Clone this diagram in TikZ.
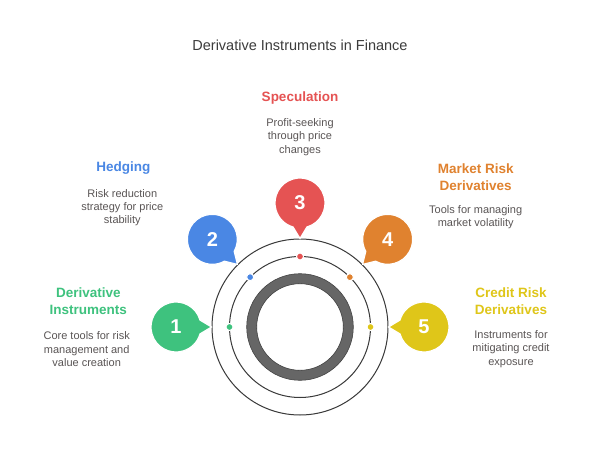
\documentclass[tikz,border=0pt]{standalone}
\usepackage{fontspec}
\setmainfont{Liberation Sans}
\usetikzlibrary{calc}
\definecolor{cgreen}{HTML}{3EC27E}
\definecolor{cblue}{HTML}{4A87E4}
\definecolor{cred}{HTML}{E55353}
\definecolor{corange}{HTML}{E0822F}
\definecolor{cyellow}{HTML}{DFC619}
\definecolor{descgray}{HTML}{5A5555}
\definecolor{titlegray}{HTML}{3C3C3C}
\definecolor{linegray}{HTML}{3A3A3A}
\definecolor{ringgray}{HTML}{666666}
\definecolor{ringedge}{HTML}{444444}
\begin{document}
\begin{tikzpicture}[x=1pt,y=1pt,
  head/.style={font=\fontsize{13.5}{17.7}\selectfont\bfseries, align=center, inner sep=0},
  desc/.style={font=\fontsize{11}{13.3}\selectfont, text=descgray, align=center, inner sep=0},
  num/.style={font=\fontsize{20}{20}\selectfont\bfseries, text=white, inner sep=0},
  ringline/.style={draw=linegray, line width=1},
]
\useasboundingbox[fill=white] (-300,-133) rectangle (301,327);
\node[font=\fontsize{14.5}{17}\selectfont, text=titlegray, inner sep=0] (title) at (0,282) {Derivative Instruments in Finance};

% circles
\draw[ringline] (0,0) circle[radius=88];
\draw[ringline] (0,0) circle[radius=70.5];
\draw[ringgray, line width=10] (0,0) circle[radius=48.3];
\draw[ringedge, line width=0.6] (0,0) circle[radius=53.3];
\draw[ringedge, line width=0.6] (0,0) circle[radius=43.3];

% bubbles
\foreach \a/\c/\n in {180/cgreen/1, 135/cblue/2, 90/cred/3, 45/corange/4, 0/cyellow/5} {
  \pgfmathsetmacro{\sa}{\a+180+16}
  \pgfmathsetmacro{\ea}{\a+180+344}
  \coordinate (c\n) at (\a:124);
  \coordinate (t\n) at (\a:88.5);
  \fill[\c, draw=white, line width=1.2] ($(c\n)+(\sa:25)$) arc[start angle=\sa, end angle=\ea, radius=25] -- (t\n) -- cycle;
  \node[num] (b\n) at (c\n) {\n};
  \fill[\c, draw=white, line width=1] (\a:70.5) circle[radius=3.5];
}

% labels
\node[head, text=cred] (h3) at (0,229.3) {Speculation};
\node[desc] (d3) at (0,190.1) {Profit-seeking\\through price\\changes};
\node[head, text=cblue] (h2) at (-176.7,158.7) {Hedging};
\node[desc] (d2) at (-177.7,119.4) {Risk reduction\\strategy for price\\stability};
\node[head, text=corange] (h4) at (175.7,149.8) {Market Risk\\Derivatives};
\node[desc] (d4) at (175.7,110) {Tools for managing\\market volatility};
\node[head, text=cgreen] (h1) at (-211.7,25.8) {Derivative\\Instruments};
\node[desc] (d1) at (-213.3,-22.1) {Core tools for risk\\management and\\value creation};
\node[head, text=cyellow] (h5) at (211,25.8) {Credit Risk\\Derivatives};
\node[desc] (d5) at (211,-22.1) {Instruments for\\mitigating credit\\exposure};
\end{tikzpicture}
\end{document}
